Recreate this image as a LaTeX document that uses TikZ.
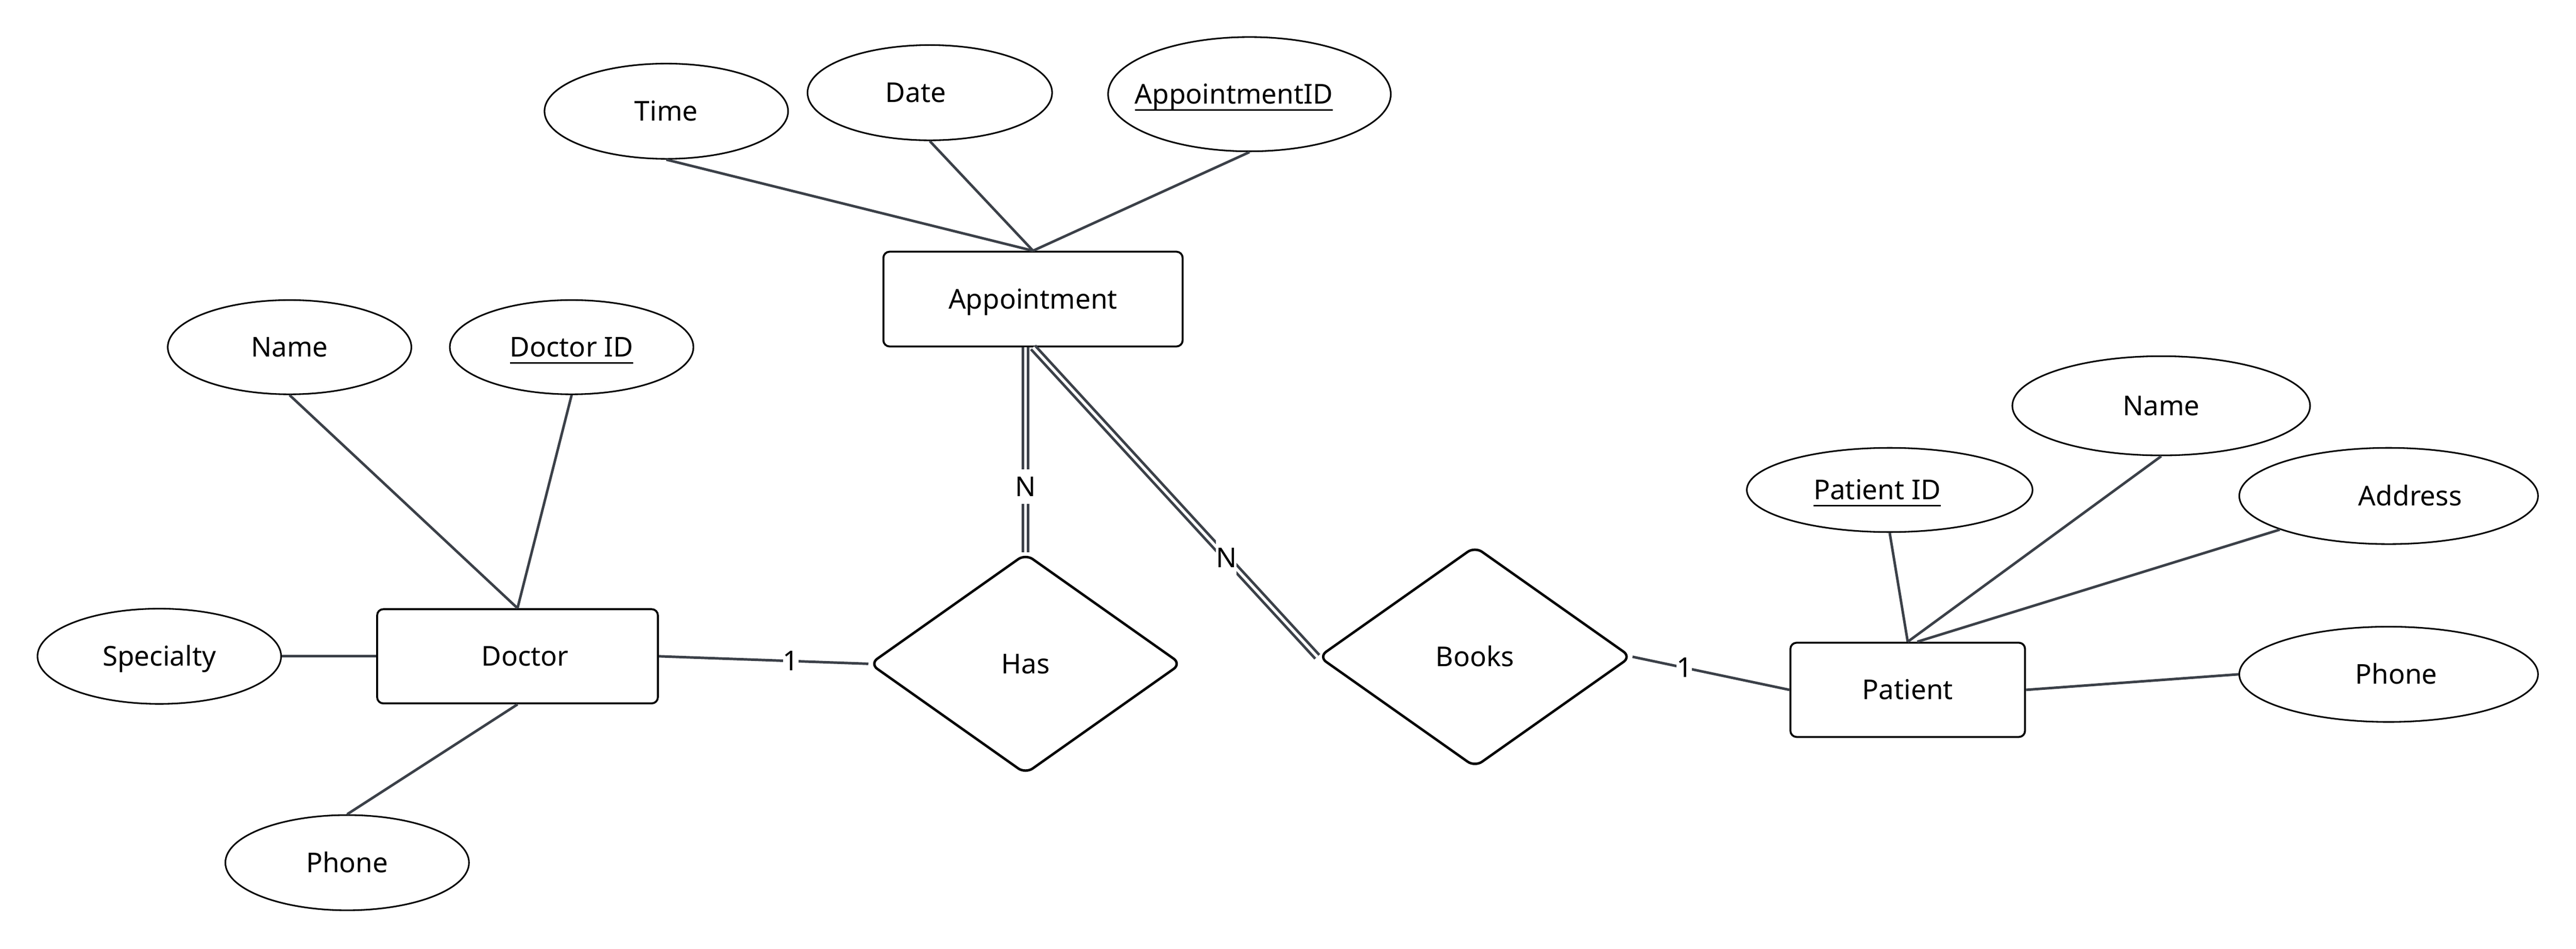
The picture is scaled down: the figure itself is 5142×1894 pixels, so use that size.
\documentclass[tikz,border=0pt]{standalone}
\usepackage{fontspec}
\setmainfont{Noto Sans}
\usetikzlibrary{shapes.geometric,calc}
\definecolor{conncol}{RGB}{59,64,72}
\newcommand\keyul[1]{\setbox0\hbox{#1}\rlap{\smash{\rule[-4pt]{\wd0}{1pt}}}\box0}
\newcommand\tsh[1]{\hspace*{#1}}
\begin{document}
\begin{tikzpicture}[x=0.01cm,y=-0.01cm,
  every node/.style={font=\fontsize{15.5}{18}\selectfont},
  attr/.style={ellipse, draw=black, line width=0.9pt, fill=white, inner sep=0pt, text height=11pt, text depth=0pt},
  ent/.style={rectangle, draw=black, line width=1.1pt, fill=white, rounded corners=3.5pt, inner sep=0pt, text height=11pt, text depth=0pt},
  rel/.style={diamond, draw=black, line width=1.4pt, fill=white, rounded corners=5pt, inner sep=0pt, text height=11pt, text depth=0pt},
  conn/.style={draw=conncol, line width=1.45pt},
  dbl/.style={draw=conncol, line width=1.5pt, double=white, double distance=1.6pt},
  card/.style={fill=white, inner ysep=0.3pt, inner xsep=0pt, text height=15pt, text depth=4pt, text=black}
]
\fill[white] (0,0) rectangle (5142,1894);
\useasboundingbox (0,0) rectangle (5142,1894);

% entities
\node[ent, minimum width=5.97cm, minimum height=1.89cm] (app) at (2062,597) {Appointment};
\node[ent, minimum width=5.60cm, minimum height=1.88cm] (doc) at (1033,1310) {\tsh{0.3cm}Doctor};
\node[ent, minimum width=4.68cm, minimum height=1.88cm] (pat) at (3808,1377) {Patient};

% relationships
\node[rel, minimum width=6.22cm, minimum height=4.40cm] (has) at (2047,1325) {Has};
\node[rel, minimum width=6.24cm, minimum height=4.41cm] (books) at (2944,1311) {Books};

% attributes
\node[attr, minimum width=4.86cm, minimum height=1.90cm] (time) at (1330,222) {Time};
\node[attr, minimum width=4.88cm, minimum height=1.90cm] (date) at (1856,185) {\tsh{-0.56cm}Date};
\node[attr, minimum width=5.64cm, minimum height=2.28cm] (apid) at (2494,188) {\tsh{-0.62cm}\keyul{AppointmentID}};
\node[attr, minimum width=4.86cm, minimum height=1.88cm] (dname) at (578,693) {Name};
\node[attr, minimum width=4.86cm, minimum height=1.88cm] (did) at (1141,693) {\keyul{Doctor ID}};
\node[attr, minimum width=4.86cm, minimum height=1.90cm] (spec) at (318,1310) {Specialty};
\node[attr, minimum width=4.86cm, minimum height=1.90cm] (dphone) at (693,1722) {Phone};
\node[attr, minimum width=5.70cm, minimum height=1.68cm] (pid) at (3772,978) {\tsh{-0.5cm}\keyul{Patient ID}};
\node[attr, minimum width=5.94cm, minimum height=1.98cm] (pname) at (4314,810) {Name};
\node[attr, minimum width=5.96cm, minimum height=1.92cm] (addr) at (4768,990) {\tsh{0.86cm}Address};
\node[attr, minimum width=5.96cm, minimum height=1.90cm] (pphone) at (4768,1346) {\tsh{0.3cm}Phone};

% connectors
\draw[conn] (time.south) -- (app.north);
\draw[conn] (date.south) -- (app.north);
\draw[conn] (apid.south) -- (app.north);
\draw[conn] (dname.south) -- (doc.north);
\draw[conn] (did.south) -- (doc.north);
\draw[conn] (spec.east) -- (doc.west);
\draw[conn] (dphone.north) -- (doc.south);
\draw[conn] (doc.east) -- node[card, pos=0.63] (c1) {1} (has.west);
\draw[dbl] (app.south -| has.north) -- node[card, pos=0.68] (c2) {N} (has.north);
\draw[dbl] (app.south) -- node[card, pos=0.68] (c3) {N} (books.west);
\draw[conn] (books.east) -- node[card, pos=0.33] (c4) {1} (pat.west);
\draw[conn] (pid.south) -- (pat.north);
\draw[conn] (pname.south) -- (pat.north);
\draw[conn] (addr) -- ([xshift=0.19cm]pat.north);
\draw[conn] (pphone.west) -- (pat.east);
\end{tikzpicture}
\end{document}
